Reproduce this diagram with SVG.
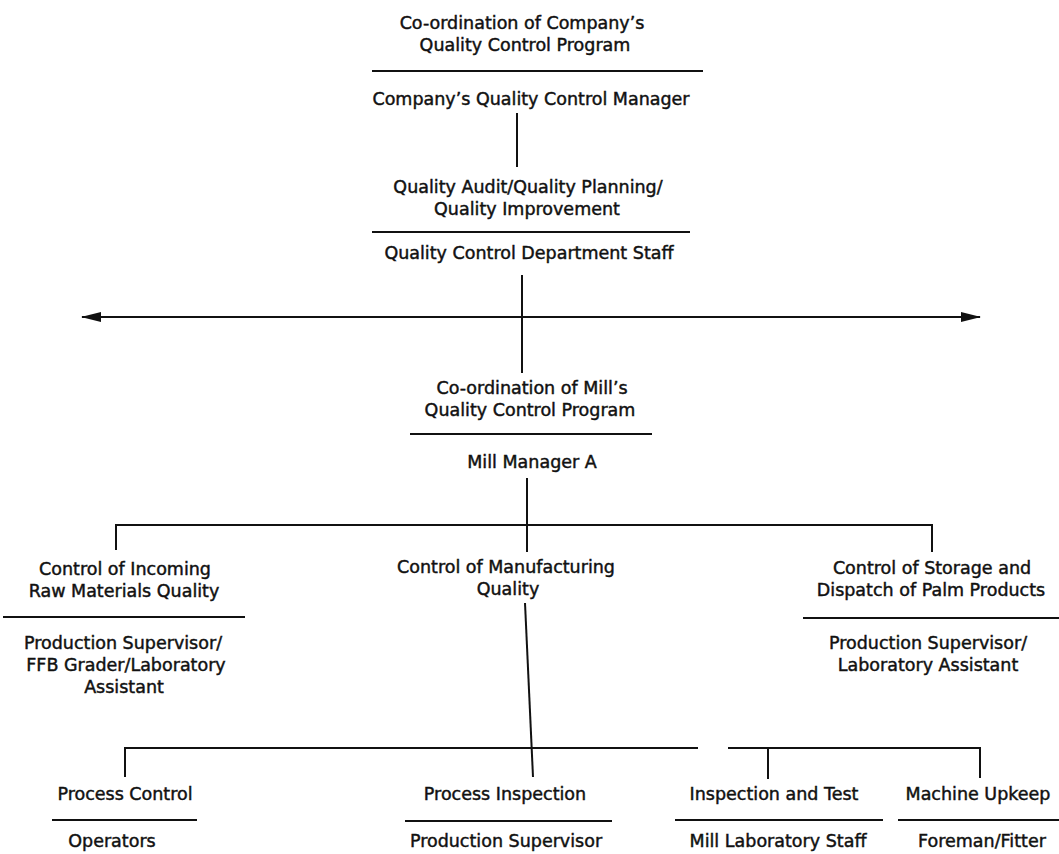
<svg xmlns="http://www.w3.org/2000/svg" width="1059" height="854" viewBox="0 0 1059 854">
<style>
text{font-family:"DejaVu Sans","Liberation Sans",sans-serif;font-size:17.5px;fill:#111;stroke:#111;stroke-width:0.45;text-anchor:middle}
.rule{stroke:#111;stroke-width:1.8;fill:none}
.conn{stroke:#111;stroke-width:2;fill:none}
</style>
<defs>
<marker id="ah" viewBox="0 0 20 10" refX="19" refY="5" markerWidth="20" markerHeight="10" markerUnits="userSpaceOnUse" orient="auto-start-reverse">
<path d="M0,0 L20,5 L0,10 z" fill="#111"/>
</marker>
</defs>
<rect width="1059" height="854" fill="#fff"/>
<g id="connectors">
<line class="conn" x1="517" y1="113" x2="517" y2="167"/>
<line class="conn" x1="522" y1="275" x2="522" y2="373"/>
<line class="conn" x1="82" y1="317" x2="980" y2="317" stroke-width="2.5" marker-start="url(#ah)" marker-end="url(#ah)"/>
<line class="conn" x1="527" y1="478" x2="527" y2="552"/>
<path class="conn" d="M116,550 V525 H932 V552"/>
<line class="conn" x1="525" y1="603" x2="533" y2="777"/>
<path class="conn" d="M125,777 V748 H698"/>
<path class="conn" d="M768,779 V748 M728,748 H980 V778"/>
</g>
<g id="n-company">
<text x="522" y="29">Co-ordination of Company’s</text>
<text x="525" y="51">Quality Control Program</text>
<line class="rule" x1="372" y1="71" x2="703" y2="71"/>
<text x="531" y="105">Company’s Quality Control Manager</text>
</g>
<g id="n-qcdept">
<text x="528" y="193">Quality Audit/Quality Planning/</text>
<text x="527" y="215">Quality Improvement</text>
<line class="rule" x1="372" y1="232" x2="690" y2="232"/>
<text x="529" y="259">Quality Control Department Staff</text>
</g>
<g id="n-mill">
<text x="532" y="394">Co-ordination of Mill’s</text>
<text x="530" y="416">Quality Control Program</text>
<line class="rule" x1="410" y1="434" x2="652" y2="434"/>
<text x="532" y="468">Mill Manager A</text>
</g>
<g id="n-incoming">
<text x="125" y="575">Control of Incoming</text>
<text x="124" y="597">Raw Materials Quality</text>
<line class="rule" x1="3" y1="617" x2="245" y2="617"/>
<text x="123" y="649">Production Supervisor/</text>
<text x="126" y="671">FFB Grader/Laboratory</text>
<text x="124" y="693">Assistant</text>
</g>
<g id="n-manufacturing">
<text x="506" y="573">Control of Manufacturing</text>
<text x="508" y="595">Quality</text>
</g>
<g id="n-storage">
<text x="932" y="574">Control of Storage and</text>
<text x="931" y="596">Dispatch of Palm Products</text>
<line class="rule" x1="803" y1="618" x2="1059" y2="618"/>
<text x="928" y="649">Production Supervisor/</text>
<text x="928" y="671">Laboratory Assistant</text>
</g>
<g id="n-process-control">
<text x="125" y="800">Process Control</text>
<line class="rule" x1="52" y1="820" x2="197" y2="820"/>
<text x="112" y="847">Operators</text>
</g>
<g id="n-process-inspection">
<text x="505" y="800">Process Inspection</text>
<line class="rule" x1="405" y1="821" x2="612" y2="821"/>
<text x="506" y="847">Production Supervisor</text>
</g>
<g id="n-inspection-test">
<text x="774" y="800">Inspection and Test</text>
<line class="rule" x1="675" y1="820" x2="883" y2="820"/>
<text x="778" y="847">Mill Laboratory Staff</text>
</g>
<g id="n-machine-upkeep">
<text x="978" y="800">Machine Upkeep</text>
<line class="rule" x1="898" y1="820" x2="1059" y2="820"/>
<text x="982" y="847">Foreman/Fitter</text>
</g>
</svg>
